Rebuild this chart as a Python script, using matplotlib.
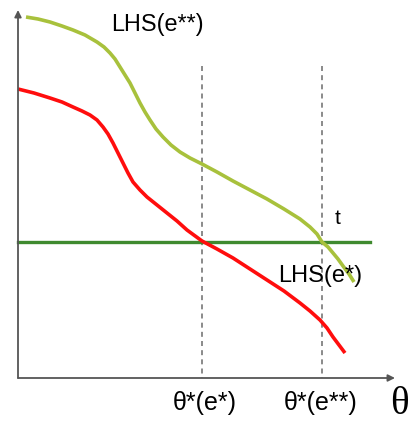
import matplotlib.pyplot as plt

# chart units: pixel-like positions on a 409 x 425 canvas, y grows downward
lhs_ee_x = [26, 38, 50, 62, 73, 85, 97, 104, 110, 115, 120, 125, 130, 135, 140, 145, 150, 156, 163, 171, 180, 190, 202, 217, 233, 250, 267, 284, 300, 310, 317, 322, 328, 333, 338, 343, 349, 354]
lhs_ee_y = [17, 19, 22, 26, 30, 35, 42, 47, 53, 59, 67, 75, 83, 93, 103, 112, 120, 129, 137, 145, 152, 158, 164, 172, 181, 190, 199, 209, 219, 227, 234, 242, 247, 253, 259, 266, 274, 282]

lhs_e_x = [18, 34, 50, 62, 73, 82, 90, 97, 103, 108, 113, 118, 123, 128, 133, 140, 147, 157, 167, 177, 187, 202, 217, 233, 250, 267, 284, 300, 310, 320, 327, 333, 339, 345]
lhs_e_y = [89, 93, 98, 102, 107, 111, 115, 120, 127, 134, 143, 153, 163, 173, 182, 190, 197, 205, 213, 221, 230, 241, 249, 258, 269, 280, 291, 303, 311, 320, 328, 337, 345, 353]

t_level = 242
theta_e = 202
theta_ee = 322

fig = plt.figure(figsize=(4.09, 4.25), dpi=100)
ax = fig.add_axes([0, 0, 1, 1])
ax.set_xlim(0, 409)
ax.set_ylim(425, 0)
ax.axis('off')

# axes with arrows
ax.annotate('', xy=(18, 10), xytext=(18, 378),
            arrowprops=dict(arrowstyle='-|>', color='#555555', lw=1.3,
                            mutation_scale=10, shrinkA=0, shrinkB=0))
ax.annotate('', xy=(395, 378), xytext=(18, 378),
            arrowprops=dict(arrowstyle='-|>', color='#555555', lw=1.3,
                            mutation_scale=10, shrinkA=0, shrinkB=0))

# dashed guides
for xv in [theta_e, theta_ee]:
    ax.plot([xv, xv], [66, 378], color='#777777', lw=1.2, ls=(0, (3, 2.5)))

ax.plot([18, 370], [t_level, t_level], color='#3f8a2f', lw=2.4)
ax.plot(lhs_ee_x, lhs_ee_y, color='#a8c13c', lw=2.6, solid_capstyle='butt',
        solid_joinstyle='round')
ax.plot(lhs_e_x, lhs_e_y, color='#ff0d0d', lw=2.6, solid_capstyle='butt',
        solid_joinstyle='round')

sans = 'Liberation Sans'
ax.text(111, 24, 'LHS(e**)', fontsize=16.8, family=sans, va='center', ha='left')
ax.text(278, 276, 'LHS(e*)', fontsize=17, family=sans, va='center', ha='left')
ax.text(338, 218, 't', fontsize=15, family=sans, va='center', ha='center')
ax.text(205, 403, 'θ*(e*)', fontsize=18, family=sans, va='center', ha='center')
ax.text(321, 403, 'θ*(e**)', fontsize=18, family=sans, va='center', ha='center')
ax.text(399, 404, 'θ', fontsize=28, family='Liberation Serif', va='center', ha='center')

plt.savefig('out.png', dpi=100)
